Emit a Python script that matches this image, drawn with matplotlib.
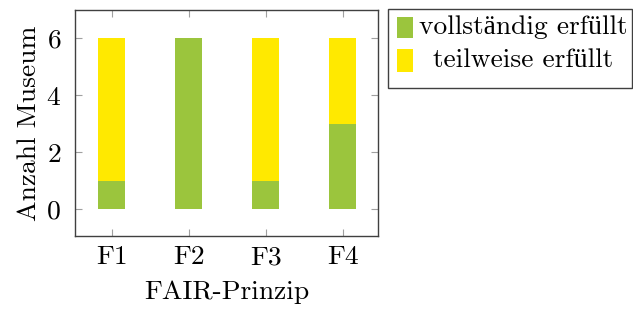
import matplotlib
matplotlib.use("Agg")
import matplotlib.pyplot as plt
from matplotlib.patches import Rectangle
import numpy as np

categories = ["F1", "F2", "F3", "F4"]
series_names = ["vollständig erfüllt", "teilweise erfüllt"]
vollstaendig = [1, 6, 1, 3]
teilweise = [5, 0, 5, 3]
yticks = [0, 2, 4, 6]

green = "#9bc53d"
yellow = "#ffe900"

plt.rcParams['font.family'] = ['cmr10', 'Liberation Serif']
plt.rcParams['axes.formatter.use_mathtext'] = True
fs = 19.8

fig = plt.figure(figsize=(6.33, 3.09), dpi=100)
W, H = 633, 309
ax = fig.add_axes([75 / W, 1 - 236 / H, 303 / W, 226 / H])

x = np.arange(len(categories))
ax.bar(x, vollstaendig, width=0.35, color=green, label=series_names[0])
ax.bar(x, teilweise, width=0.35, bottom=vollstaendig, color=yellow, label=series_names[1])

ax.set_xlim(-0.48, 3.46)
ax.set_ylim(-0.95, 7.0)
ax.set_xticks(x)
ax.set_xticklabels(categories)
ax.set_yticks(yticks)
ax.tick_params(direction='in', length=5, width=0.8, color='#a0a0a0',
               top=True, right=True, labelsize=fs)
ax.tick_params(axis='y', pad=10)
ax.tick_params(axis='x', pad=7)
for s in ax.spines.values():
    s.set_color('#404040')
    s.set_linewidth(1.0)
ax.set_xlabel("FAIR-Prinzip", fontsize=fs, labelpad=8)
ax.set_ylabel("Anzahl Museum", fontsize=fs, labelpad=4)

# legend drawn in pgfplots style (centered entries)
def px(xp, yp):
    return xp / W, 1 - yp / H

bx0, by0 = px(388, 88)
fig.add_artist(Rectangle((bx0, by0), (632 - 388) / W, (88 - 9) / H,
                         transform=fig.transFigure, facecolor='white',
                         edgecolor='#404040', linewidth=1.0))
colors = [green, yellow]
rows = [(17, 38), (49, 72)]
for name, c, (t, b) in zip(series_names, colors, rows):
    hx, hy = px(397, b)
    fig.add_artist(Rectangle((hx, hy), 16 / W, (b - t) / H,
                             transform=fig.transFigure, facecolor=c,
                             edgecolor='none'))
    tx, ty = px(523, (t + b) / 2)
    fig.text(tx, ty, name, fontsize=fs, ha='center', va='center')

fig.savefig("out.png", dpi=100)
